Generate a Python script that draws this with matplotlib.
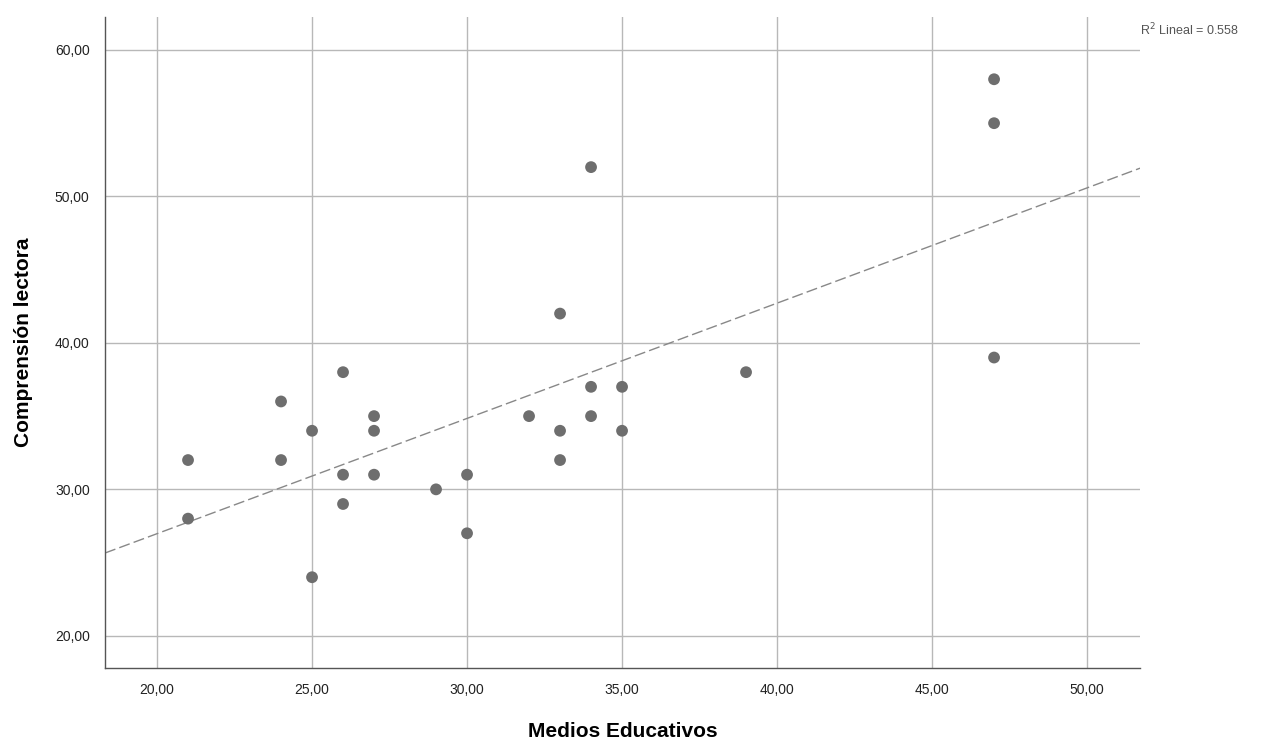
import numpy as np
import matplotlib.pyplot as plt

plt.rcParams['font.family'] = ['Liberation Sans', 'DejaVu Sans']

# --- Données ---
medios = [21, 21, 24, 24, 25, 25, 26, 26, 26, 27, 27, 27, 29, 30, 30,
          32, 33, 33, 33, 34, 34, 34, 35, 35, 39, 47, 47, 47]
comprension = [32, 28, 36, 32, 34, 24, 38, 31, 29, 35, 34, 31, 30, 31, 27,
               35, 42, 34, 32, 52, 37, 35, 37, 34, 38, 58, 55, 39]

x_ticks = [20, 25, 30, 35, 40, 45, 50]
y_ticks = [20, 30, 40, 50, 60]

# valeur affichée par SPSS (points superposés possibles)
r2_affiche = "0.558"

x = np.array(medios, dtype=float)
y = np.array(comprension, dtype=float)

# --- Régression linéaire ---
pente, origine = np.polyfit(x, y, 1)

fig = plt.figure(figsize=(12.83, 7.49), dpi=100)
ax = fig.add_axes([0.0818, 0.1081, 0.8068, 0.8692])

xmin, xmax = 18.32, 51.71
ax.set_xlim(xmin, xmax)
ax.set_ylim(17.8, 62.25)

ax.set_xticks(x_ticks)
ax.set_yticks(y_ticks)
ax.set_xticklabels([f"{v:.2f}".replace(".", ",") for v in x_ticks])
ax.set_yticklabels([f"{v:.2f}".replace(".", ",") for v in y_ticks])
ax.tick_params(axis="both", length=0, labelsize=10, colors="#222222")
ax.tick_params(axis="x", pad=11)
ax.tick_params(axis="y", pad=11)

ax.grid(True, color="#b8b8b8", linewidth=1.0)
ax.set_axisbelow(True)
for cote in ["top", "right"]:
    ax.spines[cote].set_visible(False)
for cote in ["left", "bottom"]:
    ax.spines[cote].set_color("#555555")
    ax.spines[cote].set_linewidth(1.0)

xs = np.array([xmin, xmax])
ax.plot(xs, pente * xs + origine, color="#888888", linewidth=1.0,
        linestyle=(0, (8, 3)), zorder=2)

ax.scatter(x, y, s=72, color="#6e6e6e", edgecolors="none", zorder=3)

ax.set_xlabel("Medios Educativos", fontsize=15, fontweight="bold")
ax.set_ylabel("Comprensión lectora", fontsize=15, fontweight="bold")
ax.xaxis.set_label_coords(0.5, -0.083)
ax.yaxis.set_label_coords(-0.0696, 0.5)

fig.text(0.8886, 0.96, "R$^2$ Lineal = " + r2_affiche,
         fontsize=9, color="#555555", ha="left", va="center")

fig.savefig("out.png", dpi=100)
